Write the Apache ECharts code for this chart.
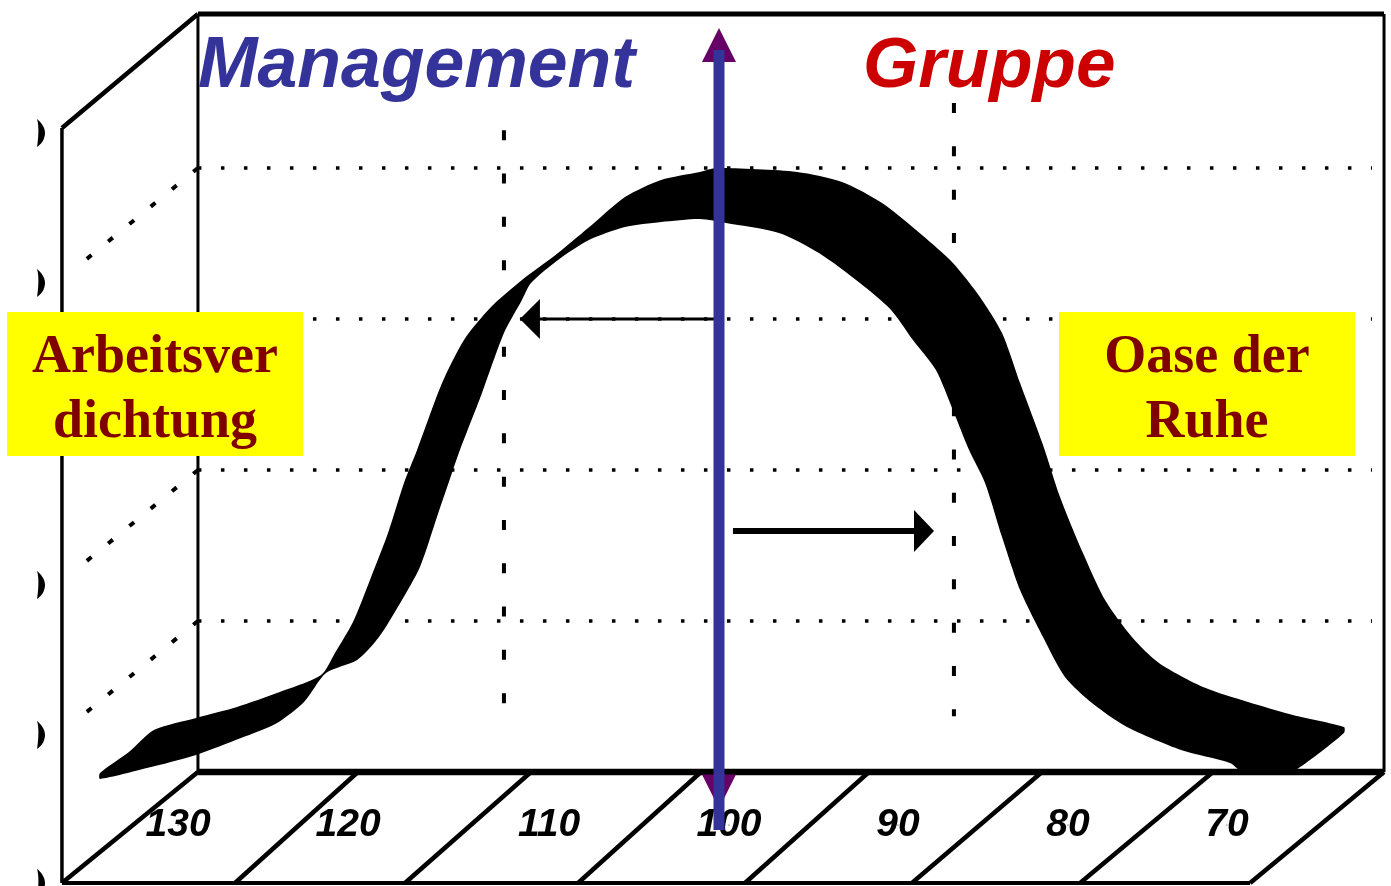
<!DOCTYPE html>
<html><head><meta charset="utf-8">
<style>html,body{margin:0;padding:0;background:#fff}#c{width:1391px;height:886px}</style>
<script src="https://cdn.jsdelivr.net/npm/echarts@6/dist/echarts.min.js"></script>
</head><body><div id="c"></div>
<script>
// Band outline (x = IQ position, y = level)
const upperX=[136.41,134.71,133.24,130.76,128.35,126.0,123.41,122.59,121.53,120.53,119.47,118.53,117.76,116.29,115.0,113.41,111.59,109.47,107.35,105.53,103.41,101.12,100.12,95.41,92.76,90.41,88.06,86.24,84.65,83.35,82.29,80.94,79.94,78.59,77.29,75.71,74.12,71.53,68.88,66.24,63.24];
const upperY=[-0.07,1.32,2.78,3.58,4.31,5.23,6.42,7.88,9.93,12.72,15.83,19.14,21.32,25.76,28.61,30.79,32.58,34.37,36.36,38.08,39.21,39.74,40.0,39.74,39.07,37.68,35.56,33.71,31.46,29.07,25.76,21.66,18.21,14.5,11.39,8.94,7.22,5.63,4.64,3.78,2.98];
const lowerX=[136.41,133.65,130.76,128.12,126.0,124.41,123.12,121.29,120.0,118.65,117.59,116.59,115.65,115.24,113.94,112.65,111.59,111.06,109.47,107.65,105.53,103.41,101.12,99.59,96.47,94.12,91.71,89.88,88.59,87.24,86.24,85.29,84.35,83.35,82.29,80.94,79.65,78.06,76.0,72.82,69.94,69.12,66.53,65.47,63.24];
const lowerY=[-0.46,0.26,1.13,2.25,3.25,4.64,6.56,7.42,8.94,11.39,13.58,16.89,20.0,21.32,25.1,29.07,31.26,32.38,33.91,35.23,36.09,36.42,36.62,36.36,35.7,34.37,32.38,30.6,28.61,26.62,23.97,21.32,19.14,15.56,12.05,8.94,6.29,4.57,2.98,1.46,0.6,-0.07,-0.07,0.6,2.58];
// Tick labels and their positions
const tickLabels=['130','120','110','100','90','80','70'];
const tickPosX=[131.82,121.82,110.0,99.41,89.47,79.47,70.12];
const tickLabelY=-3.51;
// Chart box
const xBackLeft=130.65, xBackRight=60.88, xFrontLeft=138.65, xFrontRight=68.76;
const yBase=0, yTop=50.2, ySideTop=42.65, yFront=-7.35;
const floorBack=[130.65,121.24,111.06,101.06,91.18,81.0,70.94,60.88];
const floorFront=[138.65,128.47,118.47,108.29,98.47,88.65,78.76,68.76];
// Grid levels
const gridLevels=[10,20,30,40];
const gridEndX=61.59;
const sideFrontX=137.6, sideDrop=6.4;
const vGridX=[112.65,86.18];
const vGridTop=[42.5,44.3];
const vGridBottom=[2.9,3.7];
const sideMarksY=[42.32,32.38,12.38,2.45,-7.35];
const sideMarksX=139.88;
// Arrows
const mainArrowX=100, mainArrowTop=47.81, mainArrowBottom=-3.84;
const mainHeadY=[48.15,-1.29];
const leftArrow={x:[100.24,110.82],y:30.0,head:111.12};
const rightArrow={x:[99.18,88.18],y:15.96,head:87.94};

const font='"Liberation Sans",Arial,sans-serif', serif='"Liberation Serif","Times New Roman",serif';
const seg=(pts,width,z,extra)=>({type:'line',data:pts,symbol:'none',silent:true,z:z||2,clip:false,
  lineStyle:Object.assign({color:'#000',width:width,opacity:1},extra||{})});
const series=[];
// dotted grid
gridLevels.forEach(v=>{
  series.push(seg([[xBackLeft,v],[gridEndX,v]],3.5,1,{type:[3.5,19.5]}));
  series.push(seg([[xBackLeft,v],[sideFrontX,v-sideDrop]],4,1,{type:[6,21.5]}));
});
vGridX.forEach((x,i)=>series.push(seg([[x,vGridTop[i]],[x,vGridBottom[i]]],4,1,{type:[10,33.3]})));
// frame
series.push(seg([[xBackLeft,yBase],[xBackLeft,yTop]],3));
series.push(seg([[xBackLeft,yTop],[xBackRight,yTop]],5));
series.push(seg([[xBackRight,yTop],[xBackRight,yBase]],3));
series.push(seg([[xBackLeft,yBase],[xBackRight,yBase]],6.5));
series.push(seg([[xFrontLeft,ySideTop],[xBackLeft,yTop]],4.5));
series.push(seg([[xFrontLeft,ySideTop],[xFrontLeft,yFront]],3.5));
series.push(seg([[xFrontLeft,yFront],[xFrontRight,yFront]],4));
floorBack.forEach((x,i)=>series.push(seg([[x,yBase],[floorFront[i],yFront]],4.5)));
// side marks
series.push({type:'scatter',silent:true,z:2,clip:false,symbol:'path://M0 0 C6 6 8 14 6 20 C5 25 2 28 0 30 C1 22 2 8 0 0 Z',
  symbolSize:[8,28],itemStyle:{color:'#000',opacity:1},data:sideMarksY.map(y=>[sideMarksX,y])});
// band
series.push({type:'custom',silent:true,z:3,clip:false,coordinateSystem:'cartesian2d',data:[[upperX[0],upperY[0]]],
  renderItem:(p,api)=>{
    const pts=upperX.map((x,i)=>api.coord([x,upperY[i]]));
    for(let i=lowerX.length-1;i>=0;i--)pts.push(api.coord([lowerX[i],lowerY[i]]));
    return {type:'polygon',shape:{points:pts,smooth:0.25},style:{fill:'#000'}};
  }});
// small black arrows
series.push(seg(leftArrow.x.map(x=>[x,leftArrow.y]),3,4));
series.push(seg(rightArrow.x.map(x=>[x,rightArrow.y]),6,4));
series.push({type:'scatter',silent:true,z:4,clip:false,symbol:'triangle',itemStyle:{color:'#000',opacity:1},
  data:[{value:[leftArrow.head,leftArrow.y],symbolRotate:90,symbolSize:[40,20]},
        {value:[rightArrow.head,rightArrow.y],symbolRotate:-90,symbolSize:[42,20]}]});
// tick labels
series.push({type:'scatter',silent:true,z:5,clip:false,symbolSize:1,itemStyle:{color:'#000',opacity:1},
  data:tickLabels.map((t,i)=>({name:t,value:[tickPosX[i],tickLabelY]})),
  label:{show:true,position:'inside',formatter:'{b}',fontFamily:font,fontStyle:'italic',fontWeight:'bold',fontSize:39,color:'#000',opacity:1}});
// main arrow
series.push({type:'scatter',silent:true,z:6,clip:false,symbol:'triangle',itemStyle:{color:'#660066',opacity:1},
  data:[{value:[mainArrowX,mainHeadY[0]],symbolSize:[34,34]},
        {value:[mainArrowX,mainHeadY[1]],symbolSize:[34,34],symbolRotate:180}]});
series.push(seg([[mainArrowX,mainArrowTop],[mainArrowX,mainArrowBottom]],11,7,{color:'#333399',cap:'butt'}));

const box=(x,y,lines)=>[
  {type:'rect',z:20,shape:{x:x,y:y,width:296,height:144},style:{fill:'#ffff00'}},
  ...lines.map((t,i)=>({type:'text',z:21,x:x+148,y:y+46+65*i,style:{text:t,fill:'#800000',fontFamily:serif,fontWeight:'bold',fontSize:54,align:'center',verticalAlign:'middle'}}))
];
const graphic=[
  {type:'text',z:21,x:198,y:67,style:{text:'Management',fill:'#333399',fontFamily:font,fontStyle:'italic',fontWeight:'bold',fontSize:71.5,align:'left',verticalAlign:'middle'}},
  {type:'text',z:21,x:863,y:67,style:{text:'Gruppe',fill:'#cc0000',fontFamily:font,fontStyle:'italic',fontWeight:'bold',fontSize:71,align:'left',verticalAlign:'middle'}},
  ...box(7,312,['Arbeitsver','dichtung']),
  ...box(1059,312,['Oase der','Ruhe'])
];
const chart=echarts.init(document.getElementById('c'),null,{renderer:'canvas'});
chart.setOption({animation:false,backgroundColor:'#fff',
  grid:{left:0,right:0,top:0,bottom:0},
  xAxis:{type:'value',show:false,inverse:true,min:60.47,max:142.294},
  yAxis:{type:'value',show:false,min:-7.55,max:51.126},
  series:series,graphic:graphic});
</script></body></html>
